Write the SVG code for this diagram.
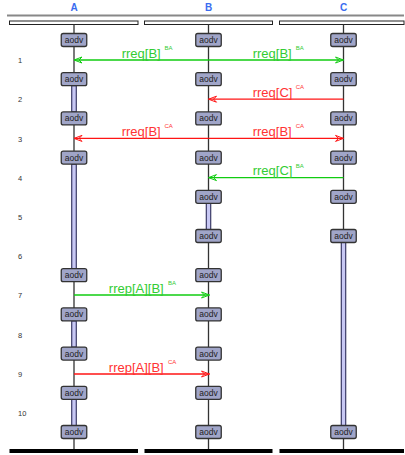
<svg xmlns="http://www.w3.org/2000/svg" width="405" height="455" viewBox="0 0 405 455">
<style>
.hdr{font-family:"Liberation Sans",Arial,sans-serif;font-weight:bold;font-size:10px;fill:#3a6cf0;text-anchor:middle}
.row{font-family:"Liberation Sans",Arial,sans-serif;font-size:7.5px;fill:#333}
.hbox{fill:#fff;stroke:#222;stroke-width:1}
.foot{fill:#000}
.life{stroke:#333;stroke-width:1.3}
.act{fill:#c8c8f4;stroke:#1a1a4a;stroke-width:1}
.ao rect{fill:#a0a5c8;stroke:#333;stroke-width:1.3}
.ao text{font-family:"Liberation Sans",Arial,sans-serif;font-size:8.5px;fill:#222;text-anchor:middle}
.g{stroke:#11cc11;stroke-width:1.3;fill:none}
.r{stroke:#ff1414;stroke-width:1.3;fill:none}
.lg{font-family:"Liberation Sans",Arial,sans-serif;font-size:13px;fill:#33cc33}
.lr{font-family:"Liberation Sans",Arial,sans-serif;font-size:13px;fill:#ff3333}
.sg{font-family:"Liberation Sans",Arial,sans-serif;font-size:6px;fill:#33cc33}
.sr{font-family:"Liberation Sans",Arial,sans-serif;font-size:6px;fill:#ff3333}
</style>
<defs>
<marker id="ag" viewBox="-10 -5 12 10" refX="0" refY="0" markerWidth="12" markerHeight="10" markerUnits="userSpaceOnUse" orient="auto">
<path d="M-8,-3 L0,0 L-8,3 L-5,0 Z" fill="none" stroke="#11cc11" stroke-width="1"/>
</marker>
<marker id="ar" viewBox="-10 -5 12 10" refX="0" refY="0" markerWidth="12" markerHeight="10" markerUnits="userSpaceOnUse" orient="auto">
<path d="M-8,-3 L0,0 L-8,3 L-5,0 Z" fill="none" stroke="#ff1414" stroke-width="1"/>
</marker>
<g id="aodv" class="ao"><rect x="-12.75" y="-6.5" width="25.5" height="13" rx="2"/><text x="0" y="3">aodv</text></g>
</defs>

<line x1="7" y1="15.5" x2="404" y2="15.5" stroke="#888" stroke-width="2"/>

<g id="rows">
<text class="row" x="18" y="63">1</text>
<text class="row" x="18" y="102">2</text>
<text class="row" x="18" y="141.5">3</text>
<text class="row" x="18" y="180.5">4</text>
<text class="row" x="18" y="220">5</text>
<text class="row" x="18" y="259">6</text>
<text class="row" x="18" y="298">7</text>
<text class="row" x="18" y="337.5">8</text>
<text class="row" x="18" y="376.5">9</text>
<text class="row" x="18" y="416">10</text>
</g>

<g id="nodeA">
<text class="hdr" x="74" y="11">A</text>
<rect class="hbox" x="9.5" y="21" width="128.5" height="3.5"/>
<line class="life" x1="74" y1="24.5" x2="74" y2="449"/>
<rect class="act" x="71.75" y="85.7" width="4.5" height="26.2"/>
<rect class="act" x="71.75" y="164.1" width="4.5" height="104.6"/>
<rect class="act" x="71.75" y="320.9" width="4.5" height="26.2"/>
<rect class="act" x="71.75" y="399.3" width="4.5" height="26.2"/>
<use href="#aodv" x="74" y="40"/>
<use href="#aodv" x="74" y="79.2"/>
<use href="#aodv" x="74" y="118.4"/>
<use href="#aodv" x="74" y="157.6"/>
<use href="#aodv" x="74" y="275.2"/>
<use href="#aodv" x="74" y="314.4"/>
<use href="#aodv" x="74" y="353.6"/>
<use href="#aodv" x="74" y="392.8"/>
<use href="#aodv" x="74" y="432"/>
<rect class="foot" x="9.5" y="449" width="128.5" height="4"/>
</g>

<g id="nodeB">
<text class="hdr" x="208.5" y="11">B</text>
<rect class="hbox" x="144.5" y="21" width="128" height="3.5"/>
<line class="life" x1="208.5" y1="24.5" x2="208.5" y2="449"/>
<rect class="act" x="206.25" y="203.3" width="4.5" height="26.2"/>
<use href="#aodv" x="208.5" y="40"/>
<use href="#aodv" x="208.5" y="79.2"/>
<use href="#aodv" x="208.5" y="118.4"/>
<use href="#aodv" x="208.5" y="157.6"/>
<use href="#aodv" x="208.5" y="196.8"/>
<use href="#aodv" x="208.5" y="236"/>
<use href="#aodv" x="208.5" y="275.2"/>
<use href="#aodv" x="208.5" y="314.4"/>
<use href="#aodv" x="208.5" y="353.6"/>
<use href="#aodv" x="208.5" y="392.8"/>
<use href="#aodv" x="208.5" y="432"/>
<rect class="foot" x="144.5" y="449" width="128" height="4"/>
</g>

<g id="nodeC">
<text class="hdr" x="343.5" y="11">C</text>
<rect class="hbox" x="279.5" y="21" width="124.5" height="3.5"/>
<line class="life" x1="343.5" y1="24.5" x2="343.5" y2="449"/>
<rect class="act" x="341.25" y="242.5" width="4.5" height="183"/>
<use href="#aodv" x="343.5" y="40"/>
<use href="#aodv" x="343.5" y="79.2"/>
<use href="#aodv" x="343.5" y="118.4"/>
<use href="#aodv" x="343.5" y="157.6"/>
<use href="#aodv" x="343.5" y="196.8"/>
<use href="#aodv" x="343.5" y="236"/>
<use href="#aodv" x="343.5" y="432"/>
<rect class="foot" x="279.5" y="449" width="124.5" height="4"/>
</g>

<g id="connectors">
<line class="g" x1="208.5" y1="60" x2="74" y2="60" marker-end="url(#ag)"/>
<line class="g" x1="208.5" y1="60" x2="343.5" y2="60" marker-end="url(#ag)"/>
<text class="lg" x="121.7" y="57.5">rreq[B]</text><text class="sg" x="164.5" y="50">BA</text>
<text class="lg" x="252.7" y="57.5">rreq[B]</text><text class="sg" x="295.7" y="50">BA</text>

<line class="r" x1="343.5" y1="99.2" x2="208.5" y2="99.2" marker-end="url(#ar)"/>
<text class="lr" x="252.7" y="96.7">rreq[C]</text><text class="sr" x="295.7" y="89.2">CA</text>

<line class="r" x1="208.5" y1="138.4" x2="74" y2="138.4" marker-end="url(#ar)"/>
<line class="r" x1="208.5" y1="138.4" x2="343.5" y2="138.4" marker-end="url(#ar)"/>
<text class="lr" x="121.7" y="135.9">rreq[B]</text><text class="sr" x="164.5" y="128.4">CA</text>
<text class="lr" x="252.7" y="135.9">rreq[B]</text><text class="sr" x="295.7" y="128.4">CA</text>

<line class="g" x1="343.5" y1="177.6" x2="208.5" y2="177.6" marker-end="url(#ag)"/>
<text class="lg" x="252.7" y="175.1">rreq[C]</text><text class="sg" x="295.7" y="167.6">BA</text>

<line class="g" x1="74" y1="295" x2="209.5" y2="295" marker-end="url(#ag)"/>
<text class="lg" x="108.8" y="292.5">rrep[A][B]</text><text class="sg" x="168" y="285">BA</text>

<line class="r" x1="74" y1="374" x2="209.5" y2="374" marker-end="url(#ar)"/>
<text class="lr" x="108.8" y="371.5">rrep[A][B]</text><text class="sr" x="168" y="364">CA</text>
</g>
</svg>
